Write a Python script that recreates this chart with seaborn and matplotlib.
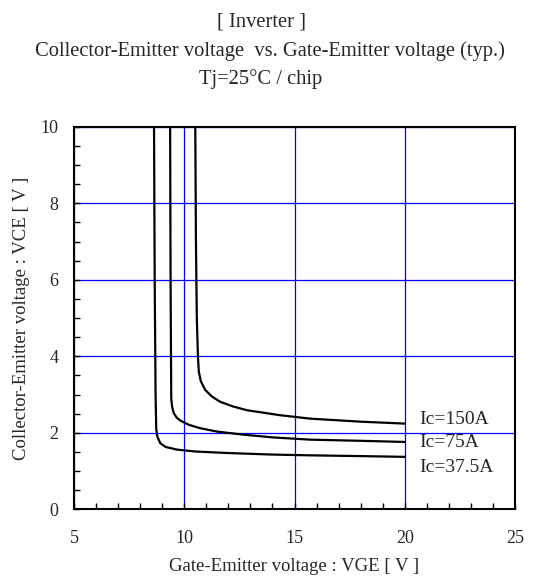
import numpy as np
import pandas as pd
import matplotlib
matplotlib.use("Agg")
import matplotlib.pyplot as plt
import seaborn as sns
from matplotlib.ticker import MultipleLocator

sns.set_theme(style="white")
plt.rcParams['font.family'] = ['Liberation Serif', 'DejaVu Serif']

# ---- data ----
vge_150 = [10.50, 10.53, 10.57, 10.62, 10.66, 10.75, 10.95, 11.25, 11.63, 12.20, 12.84, 14.34, 15.70, 18.00, 20.00]
vce_150 = [10.00, 7.00, 5.00, 4.00, 3.60, 3.35, 3.12, 2.95, 2.81, 2.69, 2.59, 2.46, 2.37, 2.29, 2.24]

vge_75 = [9.36, 9.38, 9.41, 9.45, 9.52, 9.65, 9.82, 10.20, 10.72, 11.50, 12.70, 14.00, 15.70, 18.00, 20.00]
vce_75 = [10.00, 6.00, 2.90, 2.68, 2.52, 2.40, 2.32, 2.21, 2.12, 2.03, 1.95, 1.88, 1.82, 1.79, 1.76]

vge_37 = [8.63, 8.66, 8.70, 8.73, 8.78, 8.91, 9.15, 9.67, 10.50, 12.00, 14.00, 15.70, 18.00, 20.00]
vce_37 = [10.00, 6.00, 3.00, 2.10, 1.90, 1.73, 1.63, 1.56, 1.51, 1.47, 1.43, 1.41, 1.39, 1.37]

labels = ["Ic=150A", "Ic=75A", "Ic=37.5A"]
label_y = [2.36, 1.74, 1.10]

curves = [(vge_150, vce_150), (vge_75, vce_75), (vge_37, vce_37)]

fig = plt.figure(figsize=(5.36, 5.82), dpi=100)
ax = fig.add_axes([0.138, 0.125, 0.823, 0.657])

for xs, ys in curves:
    df = pd.DataFrame({"VGE": xs, "VCE": ys})
    sns.lineplot(data=df, x="VGE", y="VCE", ax=ax, color="black", linewidth=1.6,
                 sort=False, estimator=None)

for lab, yy in zip(labels, label_y):
    ax.text(20.65, yy, lab, fontsize=14, va="center", ha="left")

ax.set_xlim(5, 25)
ax.set_ylim(0, 10)
ax.xaxis.set_major_locator(MultipleLocator(5))
ax.xaxis.set_minor_locator(MultipleLocator(1))
ax.yaxis.set_major_locator(MultipleLocator(2))
ax.yaxis.set_minor_locator(MultipleLocator(0.5))
ax.tick_params(which="both", direction="in", length=4, width=1, color="black",
               top=False, right=False, bottom=True, left=True)
ax.tick_params(axis="x", which="major", pad=15, labelsize=13)
ax.tick_params(axis="y", which="major", pad=11, labelsize=13)
ax.grid(True, which="major", color="blue", linewidth=0.9)
for s in ax.spines.values():
    s.set_color("black")
    s.set_linewidth(1.5)

ax.set_xlabel("Gate-Emitter voltage : VGE [ V ]", fontsize=13.5, labelpad=8)
ax.set_ylabel("Collector-Emitter voltage : VCE [ V ]", fontsize=13.5, labelpad=8)

fig.text(0.487, 1 - 27 / 582, "[ Inverter ]", ha="center", va="baseline", fontsize=14.8)
fig.text(0.503, 1 - 56 / 582, "Collector-Emitter voltage  vs. Gate-Emitter voltage (typ.)",
         ha="center", va="baseline", fontsize=14.8)
fig.text(0.487, 1 - 84 / 582, "Tj=25°C / chip", ha="center", va="baseline", fontsize=14.8)

fig.savefig("out.png", dpi=100)
